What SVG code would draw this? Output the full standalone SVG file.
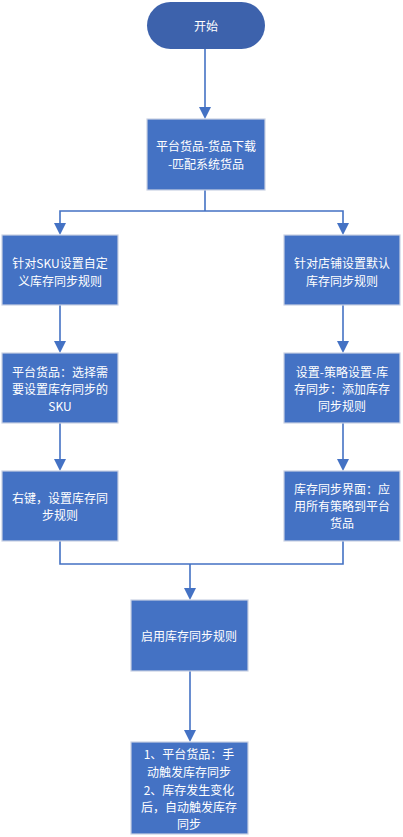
<svg xmlns="http://www.w3.org/2000/svg" width="403" height="837" viewBox="0 0 403 837">
<defs>
<style>
.box{fill:#4472C4;stroke:#C9D1E3;stroke-width:1.2}
.start{fill:#3D62AC;stroke:none}
.t{fill:#FFFFFF;font-family:"Noto Sans CJK SC","Noto Sans",sans-serif;font-size:12px;text-anchor:middle;dominant-baseline:central}
.c{fill:none;stroke:#4472C4;stroke-width:1.6}
.ah{fill:#4472C4}
</style>
</defs>
<rect width="403" height="837" fill="#FFFFFF"/>
<g id="connectors">
<path class="c" d="M205 49 V108"/>
<polygon class="ah" points="199,107 211,107 205,119"/>
<path class="c" d="M205 190 V211 H60 V224 M205 211 H343 V224"/>
<polygon class="ah" points="54,223 66,223 60,235"/>
<polygon class="ah" points="337,223 349,223 343,235"/>
<path class="c" d="M60 305 V342"/>
<polygon class="ah" points="54,341 66,341 60,353"/>
<path class="c" d="M343 305 V342"/>
<polygon class="ah" points="337,341 349,341 343,353"/>
<path class="c" d="M60 423 V460"/>
<polygon class="ah" points="54,459 66,459 60,471"/>
<path class="c" d="M343 423 V460"/>
<polygon class="ah" points="337,459 349,459 343,471"/>
<path class="c" d="M60 541 V564 H343 V541 M190 564 V589"/>
<polygon class="ah" points="184,588 196,588 190,600"/>
<path class="c" d="M190 671 V731"/>
<polygon class="ah" points="184,730 196,730 190,742"/>
</g>
<g id="start">
<rect class="start" x="147" y="2" width="118" height="47" rx="23.5" ry="23.5"/>
<text class="t" x="206" y="25">开始</text>
</g>
<g id="download">
<rect class="box" x="147" y="119" width="118" height="71"/>
<text class="t" x="206" y="145">平台货品-货品下载</text>
<text class="t" x="206" y="163">-匹配系统货品</text>
</g>
<g id="sku-rule">
<rect class="box" x="2" y="235" width="116" height="70"/>
<text class="t" x="60" y="262">针对SKU设置自定</text>
<text class="t" x="60" y="280">义库存同步规则</text>
</g>
<g id="shop-rule">
<rect class="box" x="284" y="235" width="116" height="70"/>
<text class="t" x="342" y="262">针对店铺设置默认</text>
<text class="t" x="342" y="280">库存同步规则</text>
</g>
<g id="select-sku">
<rect class="box" x="2" y="353" width="116" height="70"/>
<text class="t" x="60" y="371">平台货品：选择需</text>
<text class="t" x="60" y="388">要设置库存同步的</text>
<text class="t" x="60" y="405">SKU</text>
</g>
<g id="policy">
<rect class="box" x="284" y="353" width="116" height="70"/>
<text class="t" x="342" y="371">设置-策略设置-库</text>
<text class="t" x="342" y="388">存同步：添加库存</text>
<text class="t" x="342" y="405">同步规则</text>
</g>
<g id="right-click">
<rect class="box" x="2" y="471" width="116" height="70"/>
<text class="t" x="60" y="497">右键，设置库存同</text>
<text class="t" x="60" y="514">步规则</text>
</g>
<g id="apply">
<rect class="box" x="284" y="471" width="116" height="70"/>
<text class="t" x="342" y="488">库存同步界面：应</text>
<text class="t" x="342" y="505">用所有策略到平台</text>
<text class="t" x="342" y="522">货品</text>
</g>
<g id="enable">
<rect class="box" x="131" y="600" width="117" height="71"/>
<text class="t" x="189" y="635">启用库存同步规则</text>
</g>
<g id="trigger">
<rect class="box" x="131" y="742" width="117" height="92"/>
<text class="t" x="189" y="753">1、平台货品：手</text>
<text class="t" x="189" y="771">动触发库存同步</text>
<text class="t" x="189" y="789">2、库存发生变化</text>
<text class="t" x="189" y="806">后，自动触发库存</text>
<text class="t" x="189" y="823">同步</text>
</g>
</svg>
